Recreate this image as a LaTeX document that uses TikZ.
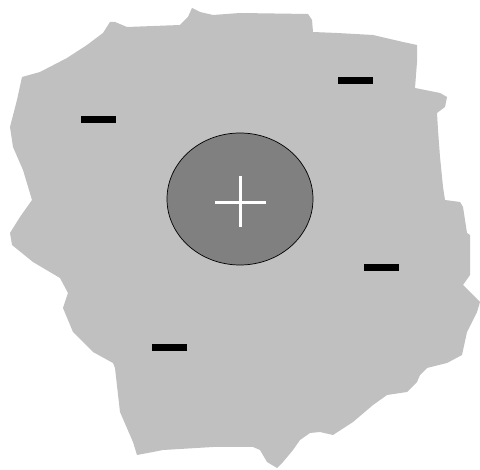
\documentclass[tikz,border=0pt]{standalone}
\usetikzlibrary{shapes.geometric}
\definecolor{blobgray}{RGB}{192,192,192}
\definecolor{coregray}{RGB}{128,128,128}
\tikzset{
  blob/.style={fill=blobgray,draw=none},
  core/.style={ellipse,fill=coregray,draw=black,line width=0.7pt,minimum width=146pt,minimum height=132pt,inner sep=0pt},
  minusbar/.style={rectangle,fill=black,draw=none,minimum width=35pt,minimum height=7pt,inner sep=0pt},
  plusline/.style={white,line width=3pt}
}
\begin{document}
\begin{tikzpicture}[x=1pt,y=-1pt]
\useasboundingbox (0,0) rectangle (480,470);
\fill[white] (0,0) rectangle (480,470);
\path[blob] (22,77)--(40,72)--(67,58)--(87,45)--(103,33)--(110,22)--(115,22)--(127,27)--(180,25)--(188,17)--(192,8)--(200,12)--(213,15)--(240,13)--(308,14)--(312,20)--(313,32)--(337,33)--(373,35)--(403,42)--(417,45)--(417,62)--(415,88)--(440,93)--(447,97)--(445,107)--(437,113)--(438,130)--(440,157)--(443,187)--(445,200)--(460,202)--(463,207)--(467,233)--(470,235)--(470,275)--(463,285)--(480,302)--(477,312)--(467,332)--(462,355)--(447,363)--(427,368)--(420,375)--(417,382)--(407,392)--(387,395)--(373,405)--(353,422)--(333,435)--(320,432)--(310,433)--(300,440)--(293,450)--(283,462)--(277,468)--(267,462)--(260,450)--(253,447)--(213,447)--(163,450)--(153,452)--(137,455)--(133,442)--(120,412)--(115,368)--(113,363)--(93,352)--(73,332)--(63,308)--(68,293)--(60,278)--(33,262)--(12,245)--(10,233)--(20,217)--(32,200)--(23,170)--(13,147)--(10,127)--(17,100)--cycle;
\node[core] (nucleus) at (240,199) {};
\coordinate (pl) at (215,203);
\coordinate (pr) at (266,203);
\coordinate (pt) at (240,176);
\coordinate (pb) at (240,227);
\draw[plusline] (pl) -- (pr);
\draw[plusline] (pt) -- (pb);
\node[minusbar] (m1) at (98.5,119.5) {};
\node[minusbar] (m2) at (355.5,80.5) {};
\node[minusbar] (m3) at (381,268) {};
\node[minusbar] (m4) at (169.5,348) {};
\end{tikzpicture}
\end{document}
